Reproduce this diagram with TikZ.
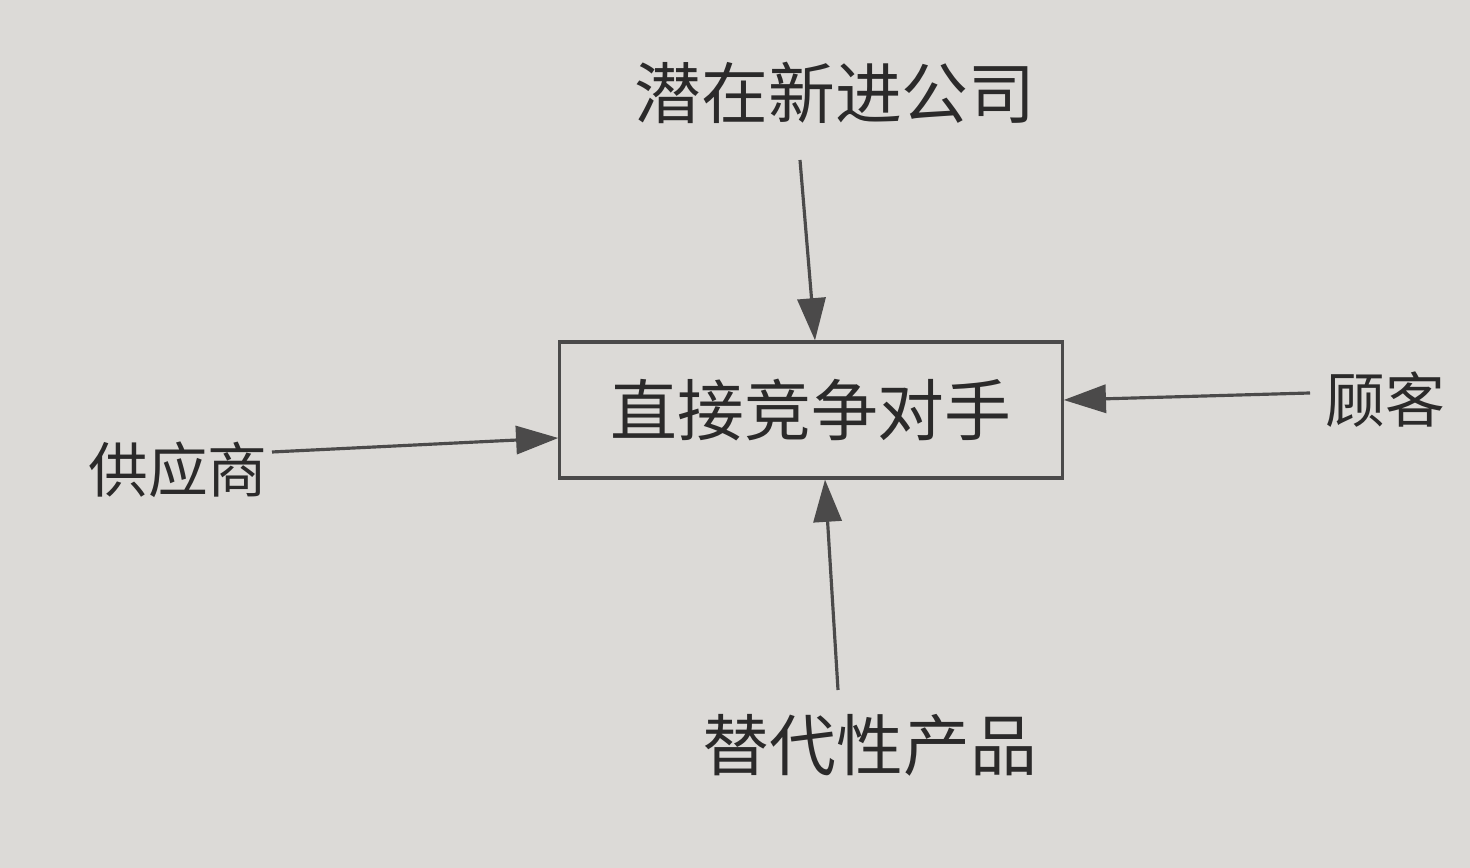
\documentclass[tikz,border=0pt]{standalone}
\usepackage{fontspec}
\newfontfamily\cjk{Noto Sans CJK SC}
\usetikzlibrary{calc,arrows.meta}
\definecolor{paper}{HTML}{DCDAD7}
\definecolor{ink}{HTML}{2B2A2A}
\tikzset{lbl/.style={font=\cjk\fontsize{19}{22}\selectfont,text=ink},
slbl/.style={font=\cjk\fontsize{17}{20}\selectfont,text=ink},
arr/.style={draw=ink!85,line width=0.9pt,-{Triangle[length=12pt,width=8pt]}}}
\begin{document}
\begin{tikzpicture}[x=0.01cm,y=-0.01cm]
\fill[paper] (0,0) rectangle (1470,868);
\useasboundingbox (0,0) rectangle (1470,868);
\node[draw=ink!85,line width=0.9pt,minimum width=5.02cm,minimum height=1.36cm,lbl] (box) at (811,410) {直接竞争对手};
\node[lbl] (top) at (835,93) {潜在新进公司};
\node[slbl] (left) at (178,470) {供应商};
\node[slbl] (right) at (1385,400) {顾客};
\node[lbl] (bot) at (870,745) {替代性产品};
\coordinate (ct) at (800,160);
\coordinate (cl) at (272,452);
\coordinate (cr) at (1310,393);
\coordinate (cb) at (838,690);
\draw[arr] (ct) -- ($(box.north)+(4,0)$);
\draw[arr] (cl) -- ($(box.west)+(0,28)$);
\draw[arr] (cr) -- ($(box.east)+(0,-10)$);
\draw[arr] (cb) -- ($(box.south)+(14,0)$);
\end{tikzpicture}
\end{document}
